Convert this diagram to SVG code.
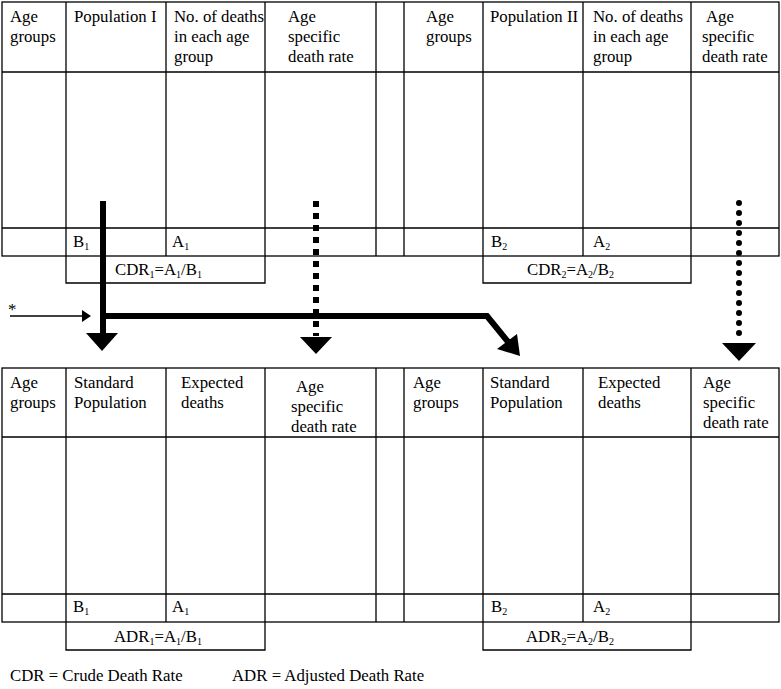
<svg xmlns="http://www.w3.org/2000/svg" width="781" height="689" viewBox="0 0 781 689">
<style>
.t{font-family:"Liberation Serif",serif;font-size:16.8px;fill:#000}
.s{font-size:10px}
.g{fill:none;stroke:#000;stroke-width:1.3}
</style>
<rect width="781" height="689" fill="#fff"/>
<g id="top-table">
<rect class="g" x="2" y="2" width="777" height="254"/>
<path class="g" d="M66 2V256M166 2V256M265 2V256M376 2V256M404 2V256M483 2V256M583 2V256M691 2V256M2 72H779M2 228H779"/>
<path class="g" d="M66 256V283H265V256M483 256V283H691V256"/>
<text class="t" x="10" y="22">Age</text><text class="t" x="10" y="42">groups</text>
<text class="t" x="74" y="22">Population I</text>
<text class="t" x="174" y="22">No. of deaths</text><text class="t" x="174" y="42">in each age</text><text class="t" x="174" y="62">group</text>
<text class="t" x="288" y="22">Age</text><text class="t" x="288" y="42">specific</text><text class="t" x="288" y="62">death rate</text>
<text class="t" x="426" y="22">Age</text><text class="t" x="426" y="42">groups</text>
<text class="t" x="490" y="22">Population II</text>
<text class="t" x="593" y="22">No. of deaths</text><text class="t" x="593" y="42">in each age</text><text class="t" x="593" y="62">group</text>
<text class="t" x="706" y="22">Age</text><text class="t" x="702" y="42">specific</text><text class="t" x="702" y="62">death rate</text>
<text class="t" x="73" y="247">B<tspan class="s" dy="3">1</tspan></text>
<text class="t" x="172" y="247">A<tspan class="s" dy="3">1</tspan></text>
<text class="t" x="491" y="247">B<tspan class="s" dy="3">2</tspan></text>
<text class="t" x="593" y="247">A<tspan class="s" dy="3">2</tspan></text>
<text class="t" x="115" y="275">CDR<tspan class="s" dy="3">1</tspan><tspan dy="-3">=A</tspan><tspan class="s" dy="3">1</tspan><tspan dy="-3">/B</tspan><tspan class="s" dy="3">1</tspan></text>
<text class="t" x="527" y="275">CDR<tspan class="s" dy="3">2</tspan><tspan dy="-3">=A</tspan><tspan class="s" dy="3">2</tspan><tspan dy="-3">/B</tspan><tspan class="s" dy="3">2</tspan></text>
</g>
<g id="bottom-table">
<rect class="g" x="2" y="368" width="777" height="254"/>
<path class="g" d="M66 368V622M166 368V622M265 368V622M376 368V622M404 368V622M483 368V622M583 368V622M691 368V622M2 437H779M2 594H779"/>
<path class="g" d="M66 622V650H265V622M483 622V650H691V622"/>
<text class="t" x="10" y="388">Age</text><text class="t" x="10" y="408">groups</text>
<text class="t" x="74" y="388">Standard</text><text class="t" x="74" y="408">Population</text>
<text class="t" x="181" y="388">Expected</text><text class="t" x="181" y="408">deaths</text>
<text class="t" x="296" y="392">Age</text><text class="t" x="291" y="412">specific</text><text class="t" x="291" y="432">death rate</text>
<text class="t" x="413" y="388">Age</text><text class="t" x="413" y="408">groups</text>
<text class="t" x="490" y="388">Standard</text><text class="t" x="490" y="408">Population</text>
<text class="t" x="598" y="388">Expected</text><text class="t" x="598" y="408">deaths</text>
<text class="t" x="703" y="388">Age</text><text class="t" x="703" y="408">specific</text><text class="t" x="703" y="428">death rate</text>
<text class="t" x="73" y="612">B<tspan class="s" dy="3">1</tspan></text>
<text class="t" x="172" y="612">A<tspan class="s" dy="3">1</tspan></text>
<text class="t" x="491" y="612">B<tspan class="s" dy="3">2</tspan></text>
<text class="t" x="593" y="612">A<tspan class="s" dy="3">2</tspan></text>
<text class="t" x="114" y="642">ADR<tspan class="s" dy="3">1</tspan><tspan dy="-3">=A</tspan><tspan class="s" dy="3">1</tspan><tspan dy="-3">/B</tspan><tspan class="s" dy="3">1</tspan></text>
<text class="t" x="526" y="642">ADR<tspan class="s" dy="3">2</tspan><tspan dy="-3">=A</tspan><tspan class="s" dy="3">2</tspan><tspan dy="-3">/B</tspan><tspan class="s" dy="3">2</tspan></text>
</g>
<g id="connectors">
<path d="M103 201V334" stroke="#000" stroke-width="6" fill="none"/>
<path d="M86 333H118L102 351Z"/>
<path d="M103 316H487L509 343" stroke="#000" stroke-width="6" fill="none" stroke-linejoin="miter"/>
<path d="M520 356L497 349L517 334Z"/>
<path d="M316 201V336" stroke="#000" stroke-width="6" stroke-dasharray="6,6" fill="none"/>
<path d="M300 337H332L316 354Z"/>
<path d="M739 203V340" stroke="#000" stroke-width="6" stroke-dasharray="0,10" stroke-linecap="round" fill="none"/>
<path d="M722 343H756L739 361Z"/>
<path d="M10 316H84" stroke="#000" stroke-width="1.3"/>
<path d="M82 310L91 316L82 322Z"/>
<text class="t" x="8" y="315">*</text>
</g>
<text class="t" x="10" y="681">CDR = Crude Death Rate</text>
<text class="t" x="232" y="681">ADR = Adjusted Death Rate</text>
</svg>
